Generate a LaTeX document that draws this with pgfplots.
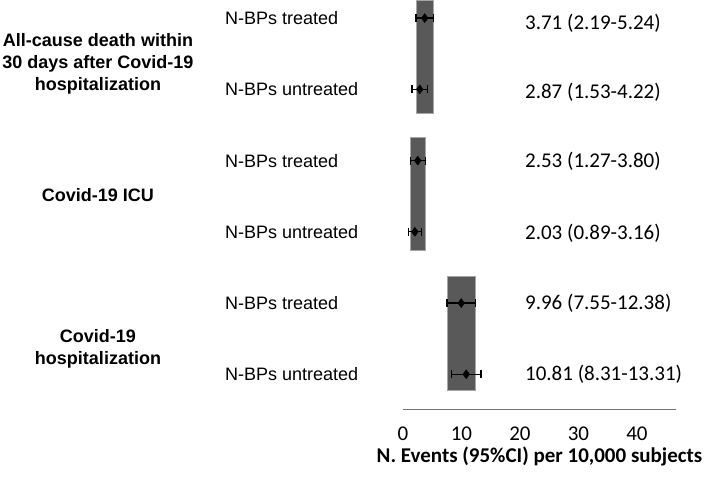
\documentclass[border=0pt]{standalone}
\usepackage{pgfplots}
\pgfplotsset{compat=1.18}
\usepackage{pgfplotstable}
\usepackage{fontspec}
\setmainfont{Liberation Sans}
\newfontfamily\calibri{Carlito}
\definecolor{barfill}{HTML}{595959}
\definecolor{baredge}{HTML}{A6A6A6}

\pgfplotstableread{
y est lo hi
6 3.71 2.19 5.24
5 2.87 1.53 4.22
4 2.53 1.27 3.80
3 2.03 0.89 3.16
2 9.96 7.55 12.38
1 10.81 8.31 13.31
}\data

\begin{document}
\begin{tikzpicture}
\begin{axis}[
  scale only axis, width=273pt, height=409pt,
  xmin=0, xmax=46.67, ymin=0.508, ymax=6.25,
  axis y line=none, axis x line*=bottom,
  x axis line style={-, draw=black!55, line width=0.9pt},
  xtick={0,10,20,30,40}, major tick length=0pt,
  /pgf/number format/assume math mode=true,
  xticklabel style={font=\fontsize{21}{24}\selectfont\calibri, anchor=center, yshift=-24pt},
  xlabel={N. Events (95\%CI) per 10,000 subjects},
  xlabel style={font=\fontsize{21}{24}\selectfont\calibri\bfseries, at={(axis description cs:0.5,0)}, anchor=center, yshift=-47pt},
  clip=false,
]
% grey bars spanning the treated CI
\addplot[fill=barfill, draw=baredge, line width=0.6pt] coordinates {(2.19,4.67) (5.24,4.67) (5.24,6.25) (2.19,6.25)} -- cycle;
\addplot[fill=barfill, draw=baredge, line width=0.6pt] coordinates {(1.27,2.74) (3.80,2.74) (3.80,4.32) (1.27,4.32)} -- cycle;
\addplot[fill=barfill, draw=baredge, line width=0.6pt] coordinates {(7.55,0.78) (12.38,0.78) (12.38,2.37) (7.55,2.37)} -- cycle;
% estimates with CI
\addplot[only marks, mark=diamond*, mark size=4.5pt, black,
  error bars/.cd, x dir=both, x explicit,
  error bar style={line width=1.4pt, black},
  error mark=|, error mark options={line width=1.4pt, mark size=4pt, black}]
  table[x=est, y=y,
    x error plus expr=\thisrow{hi}-\thisrow{est},
    x error minus expr=\thisrow{est}-\thisrow{lo}] {\data};
% row labels
\foreach \yy/\lab in {6/N-BPs treated,5/N-BPs untreated,4/N-BPs treated,3/N-BPs untreated,2/N-BPs treated,1/N-BPs untreated}{
  \edef\tmp{\noexpand\node[anchor=base west, inner sep=0pt, yshift=-6.45pt, font=\noexpand\fontsize{18}{22}\noexpand\selectfont] at (axis cs:-30.43,\yy) {\lab};}\tmp
}
% values text
\node[anchor=base west, inner sep=0pt, yshift=-6.6pt, font=\fontsize{21}{24}\selectfont\calibri] at (axis cs:20.85,5.93) {3.71 (2.19-5.24)};
\node[anchor=base west, inner sep=0pt, yshift=-6.6pt, font=\fontsize{21}{24}\selectfont\calibri] at (axis cs:20.85,4.96) {2.87 (1.53-4.22)};
\node[anchor=base west, inner sep=0pt, yshift=-6.6pt, font=\fontsize{21}{24}\selectfont\calibri] at (axis cs:20.85,3.99) {2.53 (1.27-3.80)};
\node[anchor=base west, inner sep=0pt, yshift=-6.6pt, font=\fontsize{21}{24}\selectfont\calibri] at (axis cs:20.85,2.99) {2.03 (0.89-3.16)};
\node[anchor=base west, inner sep=0pt, yshift=-6.6pt, font=\fontsize{21}{24}\selectfont\calibri] at (axis cs:20.85,2.0) {9.96 (7.55-12.38)};
\node[anchor=base west, inner sep=0pt, yshift=-6.6pt, font=\fontsize{21}{24}\selectfont\calibri] at (axis cs:20.85,1.0) {10.81 (8.31-13.31)};
% group labels
\node[align=center, inner sep=0pt, font=\fontsize{18}{22}\selectfont\bfseries] at (axis cs:-52.14,5.36) {All-cause death within\\30 days after Covid-19\\hospitalization};
\node[anchor=base, inner sep=0pt, yshift=-6.45pt, font=\fontsize{18}{22}\selectfont\bfseries] at (axis cs:-52.14,3.514) {Covid-19 ICU};
\node[align=center, inner sep=0pt, font=\fontsize{18}{22}\selectfont\bfseries] at (axis cs:-52.14,1.36) {Covid-19\\hospitalization};
\coordinate (O) at (rel axis cs:0,0);
\end{axis}
\path (O) ++(-403pt,-70pt) rectangle ++(709pt,479pt);
\end{tikzpicture}
\end{document}
